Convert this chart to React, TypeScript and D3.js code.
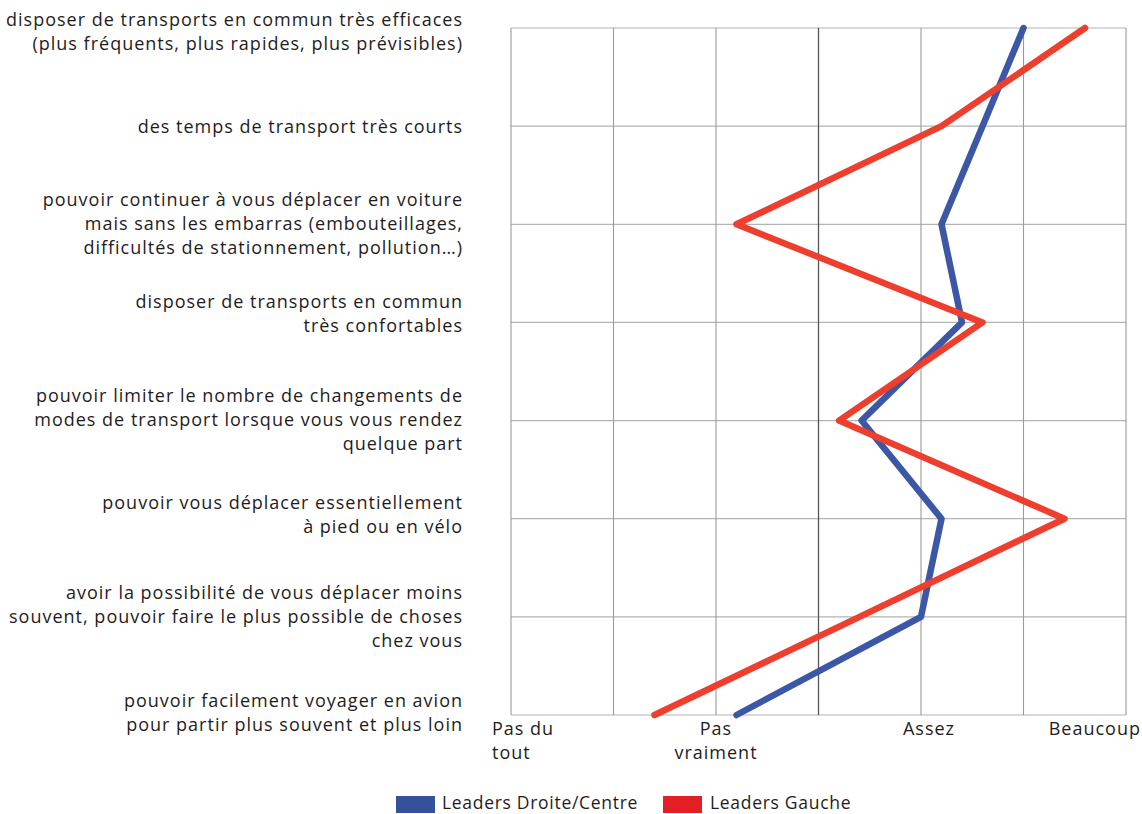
import React from "react";
import * as d3 from "d3";

const categories: string[][] = [
  ["disposer de transports en commun très efficaces", "(plus fréquents, plus rapides, plus prévisibles)"],
  ["des temps de transport très courts"],
  ["pouvoir continuer à vous déplacer en voiture", "mais sans les embarras (embouteillages,", "difficultés de stationnement, pollution…)"],
  ["disposer de transports en commun", "très confortables"],
  ["pouvoir limiter le nombre de changements de", "modes de transport lorsque vous vous rendez", "quelque part"],
  ["pouvoir vous déplacer essentiellement", "à pied ou en vélo"],
  ["avoir la possibilité de vous déplacer moins", "souvent, pouvoir faire le plus possible de choses", "chez vous"],
  ["pouvoir facilement voyager en avion", "pour partir plus souvent et plus loin"],
];

const droiteCentre: number[] = [3.5, 3.3, 3.1, 3.2, 2.71, 3.1, 3.0, 2.1];
const gauche: number[] = [3.8, 3.1, 2.1, 3.3, 2.6, 3.7, 2.7, 1.7];

const tickValues: number[] = [1, 2, 3, 4];
const tickLabels: string[][] = [["Pas du", "tout"], ["Pas", "vraiment"], ["Assez"], ["Beaucoup"]];
const gridValues: number[] = [1, 1.5, 2, 2.5, 3, 3.5, 4];

const seriesNames = ["Leaders Droite/Centre", "Leaders Gauche"];

// layout nudges for the category label blocks (pixels)
const labelNudge: number[] = [3, 0, -1, -9, -2, -5, -1, -3];

const FONT = "'Open Sans', sans-serif";
const TEXT = "#1f1c1d";

export default function App() {
  const W = 1142, H = 814;
  const left = 511, right = 1126, top = 28, bottom = 715;
  const x = d3.scaleLinear().domain([1, 4]).range([left, right]);
  const y = d3.scalePoint<number>().domain(d3.range(categories.length)).range([top, bottom]);

  const line = d3.line<number>().x((v) => x(v)).y((_, i) => y(i)!);

  const lh = 24;
  const fs = 18;
  const ls = 1;

  return (
    <svg width={W} height={H} style={{ position: "absolute", left: 0, top: 0, background: "#fff" }} fontFamily={FONT} fontWeight={500}>
      {categories.map((_, i) => (
        <line key={"h" + i} x1={left} x2={right} y1={y(i)} y2={y(i)} stroke="#b3b3b3" strokeWidth={1.2} />
      ))}
      {gridValues.map((g) => (
        <line
          key={"v" + g}
          x1={x(g)}
          x2={x(g)}
          y1={top}
          y2={bottom}
          stroke={g === 2.5 ? "#555" : "#9a9a9a"}
          strokeWidth={g === 2.5 ? 1.3 : 1.1}
        />
      ))}
      {categories.map((lines, i) => {
        const cy = y(i)! + labelNudge[i];
        const n = lines.length;
        return (
          <text key={"c" + i} textAnchor="end" fontSize={fs} letterSpacing={ls} fill={TEXT}>
            {lines.map((l, j) => (
              <tspan key={j} x={463} y={cy + (j - (n - 1) / 2) * lh + 7}>
                {l}
              </tspan>
            ))}
          </text>
        );
      })}
      {tickValues.map((t, i) => {
        const lines = tickLabels[i];
        let anchor: "start" | "middle" | "end" = "middle";
        let tx = x(t);
        if (i === 0) { anchor = "start"; tx = 492; }
        if (i === 2) { tx = x(t) + 8; }
        if (i === tickValues.length - 1) { anchor = "end"; tx = 1141; }
        return (
          <text key={"t" + i} textAnchor={anchor} fontSize={fs} letterSpacing={ls} fill={TEXT}>
            {lines.map((l, j) => (
              <tspan key={j} x={tx} y={735 + j * lh}>
                {l}
              </tspan>
            ))}
          </text>
        );
      })}
      <path d={line(droiteCentre)!} fill="none" stroke="#3b57a6" strokeWidth={6.5} strokeLinejoin="round" strokeLinecap="round" />
      <path d={line(gauche)!} fill="none" stroke="#ee3e2d" strokeWidth={6.5} strokeLinejoin="round" strokeLinecap="round" />
      <rect x={396} y={796} width={39} height={17} fill="#33529b" />
      <text x={442} y={809} fontSize={17.5} letterSpacing={0.7} fill={TEXT}>{seriesNames[0]}</text>
      <rect x={663} y={796} width={39} height={17} fill="#e31e24" />
      <text x={710} y={809} fontSize={17.5} letterSpacing={0.7} fill={TEXT}>{seriesNames[1]}</text>
    </svg>
  );
}
